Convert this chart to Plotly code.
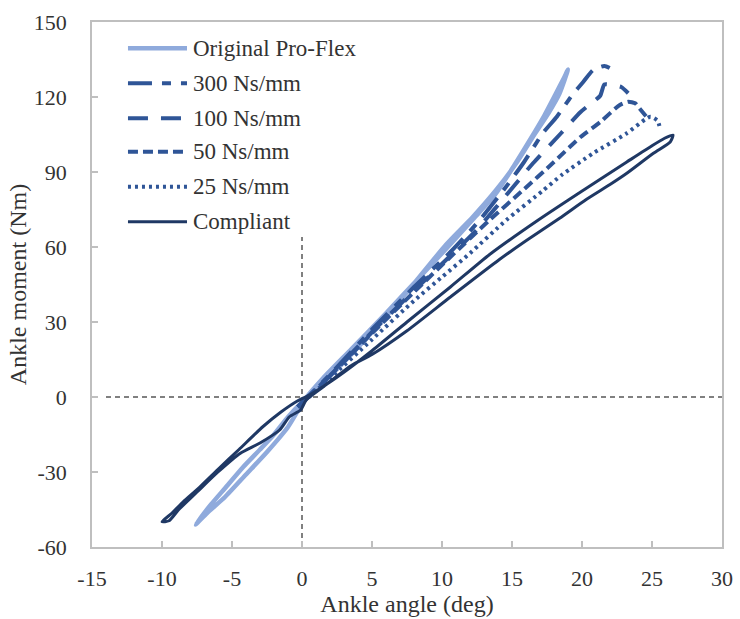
import plotly.graph_objects as go

# ---------------- data ----------------
series_names = ["Original Pro-Flex", "300 Ns/mm", "100 Ns/mm", "50 Ns/mm", "25 Ns/mm", "Compliant"]

orig_x = [-7.6, -6.5, -5.5, -4.2, -3.0, -2.0, -1.0, 0.0, 1.0, 3.0, 5.0, 7.5, 10.3, 12.2, 13.9, 15.3, 16.6, 17.6, 18.4, 19.0,
          18.7, 18.1, 17.3, 16.3, 15.2, 13.8, 12.2, 10.5, 8.5, 6.0, 3.5, 1.5, 0.2, -1.0, -2.5, -4.0, -5.5, -6.8, -7.6]
orig_y = [-51, -43, -36.5, -28, -21, -15, -8, -2, 3, 14, 26, 42, 61, 72, 83, 93.5, 105, 113.5, 121.5, 131,
          127.5, 121, 112.5, 103, 93, 81, 71, 60.5, 48.5, 33.5, 19, 7.5, -1, -12, -22, -31, -40, -46.5, -51]

d300_x = [-0.3, 2.0, 5.0, 8.0, 10.6, 12.5, 14.4, 15.8, 17.2, 18.2, 19.3, 20.1, 20.8, 21.6, 22.0]
d300_y = [-4, 9, 27, 44, 58, 69.5, 82.8, 93.5, 105.5, 112.1, 120.8, 126.1, 130.8, 132.4, 131.5]

d100_x = [-0.3, 2.0, 5.0, 8.0, 10.6, 12.5, 14.9, 16.5, 18.5, 19.9, 20.9, 21.3, 21.6, 22.1, 22.8, 23.3]
d100_y = [-4, 8.5, 26, 42.5, 56.5, 67, 82.8, 93.5, 105.5, 114, 118.5, 120.5, 125, 124.8, 124, 121.5]

d50_x = [-0.3, 2.0, 5.0, 8.0, 10.6, 13.4, 15.8, 17.9, 19.9, 21.3, 22.7, 23.3, 23.8, 24.1, 24.6]
d50_y = [-4, 8.5, 25.5, 42, 56, 70.8, 82.8, 93.5, 104, 110, 116.8, 118.1, 117.5, 115.5, 112.1]

d25_x = [-0.3, 2.0, 5.0, 8.0, 10.0, 12.0, 14.6, 17.2, 18.6, 20.8, 23.2, 24.5, 24.9, 25.4, 25.6]
d25_y = [-4, 7.5, 23, 38.5, 48, 57.5, 70.8, 82.5, 89, 97.5, 105.5, 111, 112.1, 110.5, 106.8]

comp_x = [-10.0, -9.3, -8.5, -7.3, -5.9, -4.5, -2.8, -1.5, -0.3, 0.6, 2.0, 3.5, 5.0, 7.5, 10.6, 13.4, 16.8, 19.9, 23.2, 25.0, 25.9, 26.5,
          26.3, 25.1, 23.2, 22.0, 20.3, 18.4, 16.0, 14.1, 10.6, 7.5, 5.0, 3.5, 1.5, 0.3, -0.1, -0.9, -1.6, -3.0, -4.4, -6.0, -7.5, -8.8, -9.5, -10.0]
comp_y = [-49.9, -46.5, -42, -36, -28.4, -21, -11.9, -6, -1.5, 1, 6, 12, 18.5, 30, 44, 57, 70.5, 82, 94, 100.5, 103.5, 104.8,
          102, 97.5, 89.5, 85, 79, 71.5, 62.5, 55, 40, 26.5, 17, 12.5, 4, -1.2, -5.2, -7.9, -13.2, -18.4, -22.5, -30, -38, -45, -49.5, -49.9]

series_x = [orig_x, d300_x, d100_x, d50_x, d25_x, comp_x]
series_y = [orig_y, d300_y, d100_y, d50_y, d25_y, comp_y]

x_ticks = [-15, -10, -5, 0, 5, 10, 15, 20, 25, 30]
x_tick_labels = ["-15", "-10", "-5", "0", "5", "10", "15", "20", "25", "30"]
y_ticks = [-60, -30, 0, 30, 60, 90, 120, 150]
y_tick_labels = ["-60", "-30", "0", "30", "60", "90", "120", "150"]

# reference lines (data units)
hline_x = [-14, 30]
vline_y = [-60, 64]

# ---------------- style ----------------
colors = ["#8FAADC", "#2F5597", "#2F5597", "#2F5597", "#2F5597", "#1F3864"]
widths = [4.5, 4, 4, 4, 4, 3]
dashes = ["solid", "24px,10px,9px,10px", "20px,13px", "10px,5px", "3px,4px", "solid"]

FONT = "Liberation Serif"
AXIS_COLOR = "#bfbfbf"
TEXT_COLOR = "#333333"

fig = go.Figure()

for name, xs, ys, c, w, d in zip(series_names, series_x, series_y, colors, widths, dashes):
    fig.add_trace(go.Scatter(
        x=xs, y=ys, mode="lines", name=name, showlegend=False,
        line=dict(color=c, width=w, dash=d, shape="spline", smoothing=0.6),
    ))

# dashed reference lines through origin
fig.add_shape(type="line", xref="x", yref="y", x0=hline_x[0], x1=hline_x[1], y0=0, y1=0,
              line=dict(color="#808080", width=2, dash="5px,4px"), layer="below")
fig.add_shape(type="line", xref="x", yref="y", x0=0, x1=0, y0=vline_y[0], y1=vline_y[1],
              line=dict(color="#808080", width=2, dash="5px,4px"), layer="below")

# legend drawn as swatches + text (paper coords)
leg_x0, leg_x1, leg_tx = 0.0571, 0.1508, 0.1571
leg_rows = [0.9499, 0.8832, 0.8166, 0.7530, 0.6863, 0.6196]
for name, c, w, d, ly in zip(series_names, colors, widths, dashes, leg_rows):
    fig.add_shape(type="line", xref="paper", yref="paper", x0=leg_x0, x1=leg_x1, y0=ly, y1=ly,
                  line=dict(color=c, width=w, dash=d))
    fig.add_annotation(xref="paper", yref="paper", x=leg_tx, y=ly, text=name, showarrow=False,
                       xanchor="left", yanchor="middle", font=dict(family=FONT, size=23, color=TEXT_COLOR))

axis_common = dict(
    showgrid=False, zeroline=False, showline=True, linecolor=AXIS_COLOR, linewidth=1.5, mirror=True,
    ticks="inside", ticklen=6, tickwidth=1.5, tickcolor=AXIS_COLOR, automargin=False,
    tickfont=dict(family=FONT, size=22, color=TEXT_COLOR),
)

fig.update_xaxes(range=[-15, 30], tickvals=x_ticks, ticktext=x_tick_labels, ticklabelstandoff=11,
                 title=dict(text="Ankle angle (deg)", font=dict(family=FONT, size=24, color=TEXT_COLOR), standoff=4),
                 **axis_common)
fig.update_yaxes(range=[-60, 150], tickvals=y_ticks, ticktext=y_tick_labels, ticklabelstandoff=19,
                 title=dict(text="Ankle moment (Nm)", font=dict(family=FONT, size=24, color=TEXT_COLOR), standoff=0),
                 **axis_common)

fig.update_layout(
    width=740, height=619,
    margin=dict(l=92, r=18, t=22, b=72),
    plot_bgcolor="white", paper_bgcolor="white",
    font=dict(family=FONT, color=TEXT_COLOR),
    showlegend=False,
)

fig.write_html("out.html")
